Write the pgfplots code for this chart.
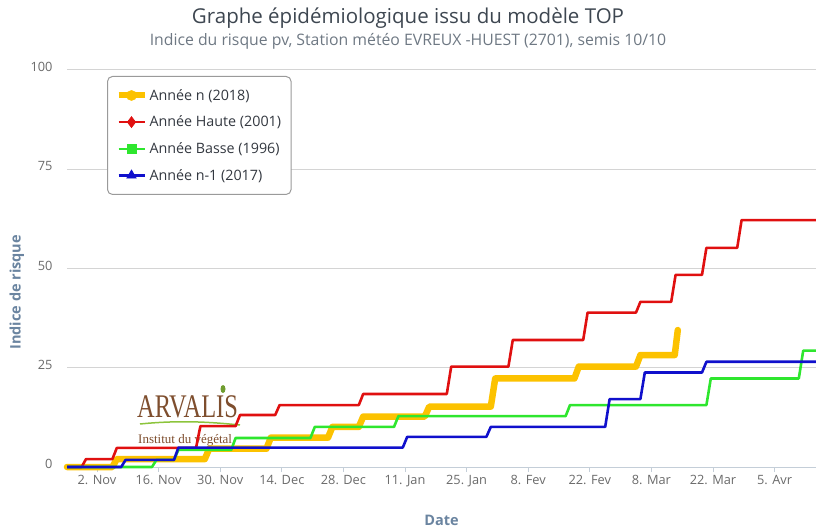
\documentclass[border=0pt]{standalone}
\usepackage{pgfplots}
\pgfplotsset{compat=1.18}
\usepackage{fontspec}
\setmainfont{Open Sans}
\newfontfamily\logofont{Liberation Serif}
\definecolor{ttl}{HTML}{3D4650}
\definecolor{subt}{HTML}{6E7883}
\definecolor{axt}{HTML}{6A84A0}
\definecolor{tickc}{HTML}{6A6A6A}
\definecolor{gridc}{HTML}{D4D4D4}
\definecolor{axisc}{HTML}{C4CED8}
\definecolor{legc}{HTML}{9A9A9A}
\definecolor{legt}{HTML}{333840}
\definecolor{corange}{HTML}{FCC200}
\definecolor{cred}{HTML}{E01010}
\definecolor{cgreen}{HTML}{2EE62E}
\definecolor{cblue}{HTML}{1010CC}
\definecolor{logobrown}{HTML}{7E4E2E}
\definecolor{leaf}{HTML}{8CC43C}
\begin{document}
\begin{tikzpicture}[x=1pt,y=1pt]
\path[use as bounding box] (0,0) rectangle (816,528);
\node[font=\fontsize{20.5}{24}\selectfont, text=ttl] at (408,510) {Graphe épidémiologique issu du modèle TOP};
\node[font=\fontsize{15.8}{18}\selectfont, text=subt] at (408,487) {Indice du risque pv, Station météo EVREUX -HUEST (2701), semis 10/10};
% logo
\node[anchor=base west, inner sep=0, text=logobrown] at (137,111) {\scalebox{0.74}[1]{\logofont\fontsize{33}{33}\selectfont ARVALIS}};
\draw[leaf, line width=1.5pt] (140,104) .. controls (180,108) and (210,106) .. (240,103);
\fill[leaf!80!black] (223,139) ellipse (2.5 and 4);
\node[anchor=base west, inner sep=0, text=logobrown, font=\logofont\fontsize{13}{14}\selectfont] at (138,85) {Institut du végétal};
\begin{axis}[
 at={(67pt,61pt)}, anchor=south west,
 scale only axis, width=749pt, height=397pt,
 xmin=-6.82, xmax=163.41, ymin=0, ymax=100,
 clip=false,
 axis x line*=bottom, axis y line*=left,
 y axis line style={draw=none},
 x axis line style={draw=axisc, line width=1pt, -},
 xtick={0,14,...,154},
 xticklabels={2. Nov,16. Nov,30. Nov,14. Dec,28. Dec,11. Jan,25. Jan,8. Fev,22. Fev,8. Mar,22. Mar,5. Avr},
 ytick={0,25,50,75,100},
 tick align=outside,
 major tick length=5pt,
 xtick style={draw=axisc, line width=1pt},
 ytick style={draw=none},
 ymajorgrids, grid style={draw=gridc, line width=1pt},
 tick label style={font=\fontsize{12.8}{15}\selectfont, text=tickc},
 /pgf/number format/assume math mode=true,
 yticklabel style={xshift=-6pt, yshift=3pt},
 ylabel={Indice de risque},
 xlabel={Date},
 label style={font=\bfseries\fontsize{14.5}{17}\selectfont, text=axt},
 ylabel style={at={(axis description cs:-0.0668,0.44)}, anchor=center},
 xlabel style={at={(axis description cs:0.5,-0.1335)}, anchor=center},
 legend style={at={(0.0534,0.985)}, anchor=north west, draw=legc, line width=1pt, rounded corners=5pt, fill=white, font=\fontsize{14.3}{17}\selectfont, text=legt, inner xsep=8pt, inner ysep=10.8pt, row sep=10.2pt, nodes={inner sep=2pt}},
 legend cell align=left,
 legend image code/.code={\draw[sharp corners, mark repeat=2,mark phase=2,#1] plot coordinates {(0pt,0pt) (13pt,0pt) (26pt,0pt)};},
]
\addplot[corange, line width=6.5pt, line join=round, line cap=round, forget plot] coordinates {
(-6.82,0) (3.5,0) (4.5,2) (24.5,2) (25.5,4.6) (38.5,4.6) (39.5,7.4) (52.5,7.4) (53.5,10.1) (59.5,10.1) (60.5,12.7) (74.5,12.7) (75.5,15.2) (89.5,15.2) (90.5,22.3) (108.5,22.3) (109.5,25.3) (122.5,25.3) (123.5,28.2) (131.3,28.2) (132,34.5)};
\addplot[cred, line width=2.6pt, line join=round, forget plot] coordinates {
(-6.82,0) (-3.5,0) (-2.5,2) (3.5,2) (4.5,4.8) (22.5,4.8) (23.5,10.3) (31.5,10.3) (32.5,13.1) (40.5,13.1) (41.5,15.6) (59.5,15.6) (60.5,18.4) (79.5,18.4) (80.5,25.3) (93.5,25.3) (94.5,32) (110.5,32) (111.5,38.9) (122.5,38.9) (123.5,41.6) (130.5,41.6) (131.5,48.4) (137.5,48.4) (138.5,55.2) (145.5,55.2) (146.5,62.2) (163.41,62.2)};
\addplot[cgreen, line width=2.6pt, line join=round, forget plot] coordinates {
(-6.82,0) (12.5,0) (13.5,1.8) (17.5,1.8) (18.5,4.3) (30.5,4.3) (31.5,7.3) (48.5,7.3) (49.5,10.1) (67.5,10.1) (68.5,12.8) (106.5,12.8) (107.5,15.6) (138.5,15.6) (139.5,22.3) (159.5,22.3) (160.5,29.3) (163.41,29.3)};
\addplot[cblue, line width=2.6pt, line join=round, forget plot] coordinates {
(-6.82,0) (5.5,0) (6.5,1.8) (17.5,1.8) (18.5,4.9) (69.5,4.9) (70.5,7.6) (88.5,7.6) (89.5,10.1) (115.5,10.1) (116.5,17.1) (123.5,17.1) (124.5,23.8) (137.5,23.8) (138.5,26.5) (163.41,26.5)};
\addlegendimage{corange, line width=6pt, mark=*, mark size=5pt, mark options={line width=0.6pt}}
\addlegendentry{Année n (2018)}
\addlegendimage{cred, line width=2.5pt, mark=diamond*, mark size=5.5pt, mark options={line width=0.6pt}}
\addlegendentry{Année Haute (2001)}
\addlegendimage{cgreen, line width=2.5pt, mark=square*, mark size=4.5pt, mark options={line width=0.6pt}}
\addlegendentry{Année Basse (1996)}
\addlegendimage{cblue, line width=2.5pt, mark=triangle*, mark size=5.5pt, mark options={line width=0.6pt}}
\addlegendentry{Année n-1 (2017)}
\end{axis}
\end{tikzpicture}
\end{document}
